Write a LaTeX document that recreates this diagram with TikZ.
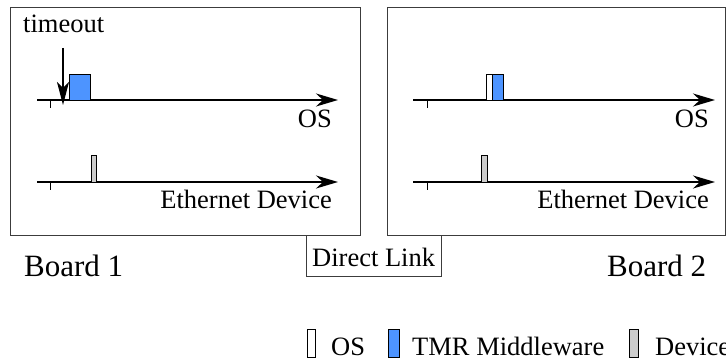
\documentclass[tikz,border=0pt]{standalone}
\usepackage{fontspec}
\setmainfont{Liberation Serif}
\usetikzlibrary{arrows.meta}
\definecolor{mwblue}{RGB}{77,148,255}
\definecolor{devgray}{RGB}{204,204,204}
\definecolor{frame}{RGB}{60,60,60}
\tikzset{
  board/.style={draw=frame, line width=0.9pt, inner sep=0pt, outer sep=0pt},
  axis/.style={line width=2pt, -{Stealth[length=22pt,width=13pt,inset=7pt]}},
  tick/.style={line width=1pt},
  slot/.style={draw=black, line width=0.9pt, inner sep=0pt, outer sep=0pt, anchor=south west},
  lbl/.style={font=\fontsize{26.5}{30}\selectfont, inner sep=0pt},
  big/.style={font=\fontsize{31}{34}\selectfont, inner sep=0pt},
}
\begin{document}
\begin{tikzpicture}[x=1pt,y=-1pt]
\useasboundingbox (0,0) rectangle (726,361);
\clip (0,0) rectangle (726,361);

% boards
\node[board, minimum width=350pt, minimum height=228pt] (board1) at (185,121) {};
\node[board, minimum width=338pt, minimum height=228pt] (board2) at (556,121) {};

% direct link between the boards
\coordinate (dl1) at (306,235);
\coordinate (dl2) at (441,235);
\draw[board] (dl1) -- (306,276) -- (441,276) -- (dl2);
\node[lbl, anchor=base west] (dltext) at (312,266) {Direct Link};

% ---- board 1 ----
\node[lbl, anchor=base west] (timeout) at (23,33) {timeout};
\coordinate (to1) at (63,48);
\coordinate (to2) at (63,105);
\draw[line width=1.6pt, -{Stealth[length=23pt,width=12pt,inset=6pt]}] (to1) -- (to2);

\coordinate (a1s) at (37,100);
\coordinate (a1e) at (338,100);
\coordinate (e1s) at (37,182);
\coordinate (e1e) at (338,182);
\draw[axis] (a1s) -- (a1e);
\draw[axis] (e1s) -- (e1e);
\coordinate (t1a) at (50,100);
\coordinate (t1b) at (50,182);
\draw[tick] (t1a) -- ++(0,8);
\draw[tick] (t1b) -- ++(0,8);

\node[slot, fill=mwblue, minimum width=21pt, minimum height=26pt] (mw1) at (69,100) {};
\node[slot, fill=devgray, minimum width=5pt, minimum height=27pt] (dev1) at (91,182) {};

\node[lbl, anchor=base east] (os1) at (332,128) {OS};
\node[lbl, anchor=base east] (eth1) at (332,208) {Ethernet Device};
\node[big, anchor=base west] (bl1) at (24,276) {Board 1};

% ---- board 2 ----
\coordinate (a2s) at (413,100);
\coordinate (a2e) at (715,100);
\coordinate (e2s) at (413,182);
\coordinate (e2e) at (715,182);
\draw[axis] (a2s) -- (a2e);
\draw[axis] (e2s) -- (e2e);
\coordinate (t2a) at (427,100);
\coordinate (t2b) at (427,182);
\draw[tick] (t2a) -- ++(0,8);
\draw[tick] (t2b) -- ++(0,8);

\node[slot, fill=white, minimum width=6pt, minimum height=26pt] (os2box) at (486,100) {};
\node[slot, fill=mwblue, minimum width=11pt, minimum height=26pt] (mw2) at (492,100) {};
\node[slot, fill=devgray, minimum width=6pt, minimum height=27pt] (dev2) at (481,182) {};

\node[lbl, anchor=base east] (os2) at (709,128) {OS};
\node[lbl, anchor=base east] (eth2) at (709,208) {Ethernet Device};
\node[big, anchor=base west] (bl2) at (607,276) {Board 2};

% ---- legend ----
\node[slot, fill=white, minimum width=8pt, minimum height=28pt] (lg1) at (307,357) {};
\node[lbl, anchor=base west] (lgt1) at (331,355) {OS};
\node[slot, fill=mwblue, minimum width=11pt, minimum height=28pt] (lg2) at (388,357) {};
\node[lbl, anchor=base west] (lgt2) at (412,355) {TMR Middleware};
\node[slot, fill=devgray, minimum width=9pt, minimum height=28pt] (lg3) at (629,357) {};
\node[lbl, anchor=base west] (lgt3) at (655,355) {Device};
\end{tikzpicture}
\end{document}
